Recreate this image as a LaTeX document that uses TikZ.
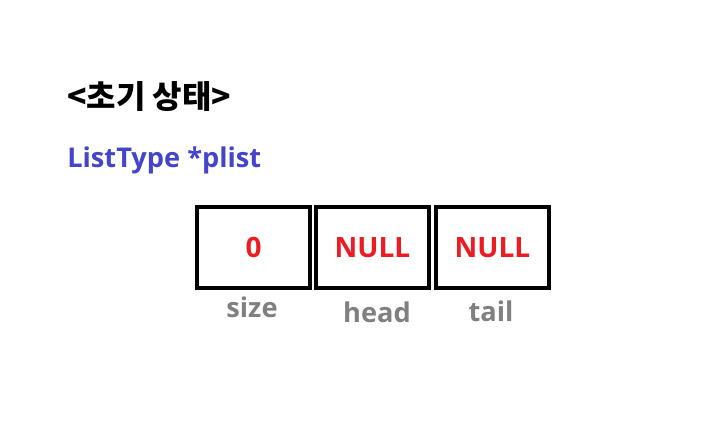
\documentclass[tikz,border=0pt]{standalone}
\usepackage{fontspec}
\setmainfont{Open Sans}
\newfontfamily\krfont{Noto Sans CJK KR}
\definecolor{tblue}{RGB}{68,68,204}
\definecolor{tred}{RGB}{237,28,36}
\definecolor{tgray}{RGB}{128,128,128}
\begin{document}
\begin{tikzpicture}[x=0.75pt,y=-0.75pt,
  cell/.style={draw=black,line width=3.4pt,minimum width=113pt*0.75,minimum height=81pt*0.75,inner sep=0pt,font=\fontsize{21}{24}\selectfont\bfseries,text=tred},
  lbl/.style={font=\fontsize{20.4}{24}\selectfont\bfseries,text=tgray,inner sep=0pt}]
\useasboundingbox (0,0) rectangle (708,437);
\node[anchor=west,inner sep=0pt,font=\krfont\fontsize{24}{28}\selectfont\bfseries] (title) at (67,97) {<초기 상태>};
\node[anchor=west,inner sep=0pt,text=tblue,font=\fontsize{20.4}{24}\selectfont\bfseries] (type) at (67,160) {ListType *plist};
\node[cell] (size) at (253.5,247.5) {0};
\node[cell] (head) at (372.5,247.5) {NULL};
\node[cell] (tail) at (492.5,247.5) {NULL};
\node[lbl] (l1) at (252,307) {size};
\node[lbl] (l2) at (377,312) {head};
\node[lbl] (l3) at (491,311) {tail};
\end{tikzpicture}
\end{document}
